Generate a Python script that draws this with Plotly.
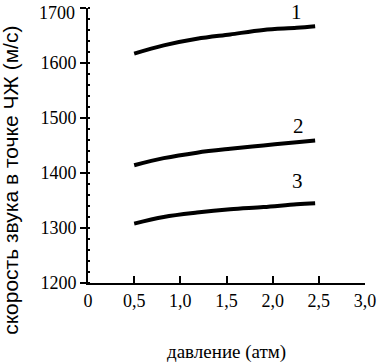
import plotly.graph_objects as go

pressure = [0.5, 0.82, 1.18, 1.54, 1.90, 2.26, 2.46]
speed_1 = [1617, 1632, 1644, 1652, 1660, 1664, 1667]
speed_2 = [1414, 1427, 1437, 1444, 1450, 1456, 1459]
speed_3 = [1308, 1320, 1328, 1334, 1338, 1343, 1345]
curve_labels = ["1", "2", "3"]
label_x = [2.26, 2.28, 2.27]
label_y = [1692, 1486, 1385]

x_tickvals = [0, 0.5, 1.0, 1.5, 2.0, 2.5, 3.0]
x_ticktext = ["0", "0,5", "1,0", "1,5", "2,0", "2,5", "3,0"]
y_tickvals = [1200, 1300, 1400, 1500, 1600, 1700]
y_ticktext = ["1200", "1300", "1400", "1500", "1600", "1700"]

serif = "Liberation Serif"
sans = "Liberation Sans"

fig = go.Figure()
for ys in (speed_1, speed_2, speed_3):
    fig.add_trace(go.Scatter(x=pressure, y=ys, mode="lines",
                             line=dict(color="black", width=4, shape="spline"),
                             showlegend=False, hoverinfo="skip"))

for t, lx, ly in zip(curve_labels, label_x, label_y):
    fig.add_annotation(x=lx, y=ly, text=t, showarrow=False,
                       font=dict(family=serif, size=21, color="black"))

# top tick label drawn separately so it can sit just below the axis end
axis_ticktext = y_ticktext[:-1] + [""]
fig.add_annotation(xref="paper", yref="y", x=0, y=y_tickvals[-1], xanchor="right",
                   yanchor="middle", xshift=-11, yshift=-5, text=y_ticktext[-1],
                   showarrow=False, font=dict(family=serif, size=18, color="black"))

fig.add_annotation(xref="paper", yref="paper", x=0.5, y=-0.25, yanchor="middle",
                   text="давление (атм)", showarrow=False,
                   font=dict(family=serif, size=19, color="black"))
fig.add_annotation(xref="paper", yref="paper", x=-0.278, xanchor="center",
                   y=0.375, yanchor="middle", textangle=-90,
                   text="скорость звука в точке ЧЖ (м/с)", showarrow=False,
                   font=dict(family=sans, size=21, color="black"))

fig.update_layout(
    width=378, height=363,
    margin=dict(l=88, r=13, t=8, b=80),
    paper_bgcolor="white", plot_bgcolor="white",
    font=dict(family=serif),
    xaxis=dict(range=[0, 3.0], tickvals=x_tickvals, ticktext=x_ticktext,
               ticks="inside", ticklen=7, tickwidth=2, tickcolor="black",
               showline=True, linewidth=2, linecolor="black", showgrid=False,
               zeroline=False, automargin=False,
               tickfont=dict(family=serif, size=18, color="black")),
    yaxis=dict(range=[1200, 1700], tickvals=y_tickvals, ticktext=axis_ticktext,
               ticks="outside", ticklen=6, tickwidth=2, tickcolor="black",
               showline=True, linewidth=2, linecolor="black", showgrid=False,
               zeroline=False, automargin=False, ticklabeloverflow="allow",
               tickfont=dict(family=serif, size=18, color="black"),
               minor=dict(ticks="inside", ticklen=2, dtick=20, tickcolor="black")),
)

fig.write_html("out.html", config={"displayModeBar": False},
               post_script="document.body.style.margin='0px';document.body.style.overflow='hidden';")
